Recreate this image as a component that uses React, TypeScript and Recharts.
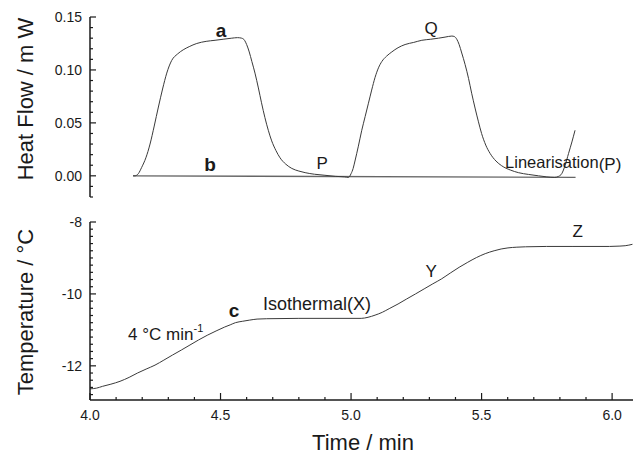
import { LineChart, Line, XAxis, YAxis, ReferenceDot, Label } from "recharts";

// heat flow trace (time / min, mW)
const heatTime = [
  4.165, 4.172, 4.185, 4.198, 4.214, 4.23, 4.246, 4.262, 4.278, 4.294, 4.313, 4.335, 4.357, 4.38, 4.409, 4.445,
  4.479, 4.51, 4.543, 4.565, 4.581, 4.592, 4.6, 4.61, 4.62, 4.632, 4.645, 4.657, 4.67, 4.683, 4.696, 4.712, 4.728,
  4.75, 4.773, 4.8, 4.824, 4.86, 4.9, 4.94, 4.975, 4.99, 5.0, 5.008, 5.015, 5.028, 5.041, 5.054, 5.066, 5.079,
  5.092, 5.105, 5.118, 5.136, 5.156, 5.18, 5.207, 5.24, 5.271, 5.305, 5.335, 5.36, 5.386, 5.396, 5.405, 5.414,
  5.424, 5.437, 5.45, 5.462, 5.475, 5.488, 5.5, 5.516, 5.533, 5.555, 5.577, 5.61, 5.641, 5.68, 5.718, 5.75, 5.78,
  5.795, 5.807, 5.82, 5.833, 5.846, 5.858,
];
const heatFlow = [
  0, 0, 0.002, 0.008, 0.017, 0.03, 0.047, 0.065, 0.082, 0.097, 0.109, 0.115, 0.119, 0.122, 0.125, 0.127,
  0.128, 0.129, 0.13, 0.1305, 0.13, 0.128, 0.124, 0.117, 0.108, 0.097, 0.083, 0.069, 0.055, 0.043, 0.033, 0.024, 0.017,
  0.011, 0.007, 0.0045, 0.003, 0.0015, 0.0005, -0.0005, -0.001, -0.0015, 0.002, 0.007, 0.014, 0.028, 0.043, 0.056, 0.068, 0.081,
  0.093, 0.102, 0.108, 0.113, 0.117, 0.121, 0.124, 0.126, 0.128, 0.129, 0.13, 0.131, 0.132, 0.1315, 0.129, 0.124,
  0.116, 0.105, 0.092, 0.078, 0.064, 0.051, 0.04, 0.029, 0.021, 0.014, 0.0095, 0.0055, 0.003, 0.0013, 0, -0.001, -0.0015,
  -0.0005, 0.002, 0.01, 0.021, 0.032, 0.043,
];
// linearisation baseline
const baseTime = [4.165, 5.86];
const baseFlow = [0, -0.0015];

// temperature trace (time / min, °C)
const tempTime = [
  4.0, 4.025, 4.048, 4.08, 4.115, 4.15, 4.182, 4.215, 4.249, 4.283, 4.316, 4.35, 4.383, 4.416, 4.449, 4.483, 4.516,
  4.537, 4.557, 4.585, 4.61, 4.64, 4.677, 4.8, 4.95, 5.039, 5.065, 5.092, 5.12, 5.146, 5.18, 5.213, 5.247, 5.28,
  5.313, 5.347, 5.38, 5.414, 5.447, 5.48, 5.514, 5.548, 5.575, 5.601, 5.635, 5.668, 5.748, 5.85, 5.99, 6.03, 6.05, 6.078,
];
const temperature = [
  -12.64, -12.62, -12.57, -12.51, -12.43, -12.32, -12.2, -12.09, -11.98, -11.84, -11.7, -11.56, -11.42, -11.28, -11.15,
  -11.03, -10.92, -10.86, -10.8, -10.76, -10.73, -10.7, -10.69, -10.68, -10.68, -10.68, -10.65, -10.59, -10.51, -10.41,
  -10.28, -10.14, -10.0, -9.86, -9.72, -9.58, -9.42, -9.26, -9.12, -8.99, -8.88, -8.8, -8.75, -8.72, -8.7, -8.69,
  -8.68, -8.68, -8.68, -8.67, -8.66, -8.62,
];

const flowTicks = [-0.02, -0.01, 0, 0.01, 0.02, 0.03, 0.04, 0.05, 0.06, 0.07, 0.08, 0.09, 0.1, 0.11, 0.12, 0.13, 0.14, 0.15];
const flowMajor = [0, 0.05, 0.1, 0.15];
const tempTicks = [
  -8, -8.2, -8.4, -8.6, -8.8, -9, -9.2, -9.4, -9.6, -9.8, -10, -10.2, -10.4, -10.6, -10.8, -11, -11.2, -11.4, -11.6,
  -11.8, -12, -12.2, -12.4, -12.6, -12.8,
];
const tempMajor = [-8, -10, -12];
const timeTicks = [4, 4.1, 4.2, 4.3, 4.4, 4.5, 4.6, 4.7, 4.8, 4.9, 5, 5.1, 5.2, 5.3, 5.4, 5.5, 5.6, 5.7, 5.8, 5.9, 6];
const timeMajor = [4, 4.5, 5, 5.5, 6];

// annotations in data coordinates
const topNotes = [
  { text: "a", t: 4.502, v: 0.131, bold: true, anchor: "middle", size: 19 },
  { text: "b", t: 4.46, v: 0.005, bold: true, anchor: "middle", size: 19 },
  { text: "P", t: 4.889, v: 0.0067, bold: false, anchor: "middle", size: 17 },
  { text: "Q", t: 5.307, v: 0.134, bold: false, anchor: "middle", size: 17 },
];
const bottomNotes = [
  { text: "c", t: 4.552, v: -10.64, bold: true, anchor: "middle", size: 19 },
  { text: "Isothermal(X)", t: 4.663, v: -10.44, bold: false, anchor: "start", size: 18 },
  { text: "Y", t: 5.307, v: -9.53, bold: false, anchor: "middle", size: 17 },
  { text: "Z", t: 5.868, v: -8.41, bold: false, anchor: "middle", size: 17 },
];

const heatData = heatTime.map((t, i) => ({ t, v: heatFlow[i] }));
const baseData = baseTime.map((t, i) => ({ t, v: baseFlow[i] }));
const tempData = tempTime.map((t, i) => ({ t, v: temperature[i] }));

const FONT = "'Liberation Sans', Arial, sans-serif";
const INK = "#1a1a1a";
const LINE = "#3a3a3a";

function YTick(props: any) {
  const { x, y, payload, majors, fmt } = props;
  const major = majors.includes(payload.value);
  return (
    <g>
      <line x1={x} x2={x + (major ? 6 : 3)} y1={y} y2={y} stroke={INK} strokeWidth={1.2} />
      {major && (
        <text x={x - 8} y={y + 5} textAnchor="end" fontSize={14} fontFamily={FONT} fill={INK}>
          {fmt(payload.value)}
        </text>
      )}
    </g>
  );
}

function XTick(props: any) {
  const { x, y, payload } = props;
  const major = timeMajor.includes(payload.value);
  return (
    <g>
      <line x1={x} x2={x} y1={y} y2={y - (major ? 7 : 3)} stroke={INK} strokeWidth={1.2} />
      {major && (
        <text x={x} y={y + 20} textAnchor="middle" fontSize={14} fontFamily={FONT} fill={INK}>
          {payload.value.toFixed(1)}
        </text>
      )}
    </g>
  );
}

function note(n: any) {
  return (p: any) => (
    <text
      x={p.cx}
      y={p.cy}
      textAnchor={n.anchor}
      fontSize={n.size}
      fontWeight={n.bold ? "bold" : "normal"}
      fontFamily={FONT}
      fill={INK}
    >
      {n.text}
    </text>
  );
}

function YTitle({ text, cx, cy }: { text: string; cx: number; cy: number }) {
  return (
    <text x={cx} y={cy} transform={`rotate(-90 ${cx} ${cy})`} textAnchor="middle" fontSize={22} fontFamily={FONT} fill={INK}>
      {text}
    </text>
  );
}

export default function App() {
  return (
    <div style={{ position: "absolute", left: 0, top: 0, width: 633, height: 457, background: "#fff" }}>
      <div style={{ position: "absolute", left: 0, top: 0 }}>
        <LineChart width={633} height={205} margin={{ top: 17, right: 0, bottom: 8, left: 0 }}>
          <XAxis dataKey="t" type="number" domain={[4, 6.08]} allowDataOverflow hide />
          <YAxis
            type="number"
            domain={[-0.02, 0.15]}
            ticks={flowTicks}
            interval={0}
            width={90}
            tickSize={0}
            tickMargin={0}
            axisLine={{ stroke: INK, strokeWidth: 1.5 }}
            tick={<YTick majors={flowMajor} fmt={(v: number) => v.toFixed(2)} />}
          >
            <Label content={() => <YTitle text="Heat Flow / m W" cx={33} cy={99} />} />
          </YAxis>
          <Line data={baseData} dataKey="v" type="linear" stroke="#666" strokeWidth={1.3} dot={false} isAnimationActive={false} />
          <Line data={heatData} dataKey="v" type="monotone" stroke={LINE} strokeWidth={1} dot={false} isAnimationActive={false} />
          {topNotes.map((n) => (
            <ReferenceDot key={n.text} x={n.t} y={n.v} r={0} shape={note(n)} />
          ))}
          <ReferenceDot
            x={5.59}
            y={0.0076}
            r={0}
            shape={(p: any) => (
              <text x={p.cx} y={p.cy} fontSize={16.5} fontFamily={FONT} fill={INK}>
                Linearisation
                <tspan dy={2} fontSize={17}>(P)</tspan>
              </text>
            )}
          />
        </LineChart>
      </div>
      <div style={{ position: "absolute", left: 0, top: 0 }}>
        <LineChart width={633} height={457} margin={{ top: 222, right: 0, bottom: 0, left: 0 }}>
          <XAxis
            dataKey="t"
            type="number"
            domain={[4, 6.08]}
            allowDataOverflow
            ticks={timeTicks}
            interval={0}
            height={57}
            tickSize={0}
            tickMargin={0}
            axisLine={{ stroke: INK, strokeWidth: 1.5 }}
            tick={<XTick />}
          >
            <Label
              content={() => (
                <text x={363} y={450} textAnchor="middle" fontSize={22} fontFamily={FONT} fill={INK}>
                  Time / min
                </text>
              )}
            />
          </XAxis>
          <YAxis
            type="number"
            domain={[-12.95, -8]}
            allowDataOverflow
            ticks={tempTicks}
            interval={0}
            width={90}
            tickSize={0}
            tickMargin={0}
            axisLine={{ stroke: INK, strokeWidth: 1.5 }}
            tick={<YTick majors={tempMajor} fmt={(v: number) => String(v)} />}
          >
            <Label content={() => <YTitle text="Temperature / °C" cx={33} cy={312} />} />
          </YAxis>
          <Line data={tempData} dataKey="v" type="monotone" stroke={LINE} strokeWidth={1} dot={false} isAnimationActive={false} />
          {bottomNotes.map((n) => (
            <ReferenceDot key={n.text} x={n.t} y={n.v} r={0} shape={note(n)} />
          ))}
          <ReferenceDot
            x={4.146}
            y={-11.28}
            r={0}
            shape={(p: any) => (
              <text x={p.cx} y={p.cy} fontSize={17} fontFamily={FONT} fill={INK}>
                4 °C min
                <tspan dy={-8} fontSize={11}>-1</tspan>
              </text>
            )}
          />
        </LineChart>
      </div>
    </div>
  );
}
